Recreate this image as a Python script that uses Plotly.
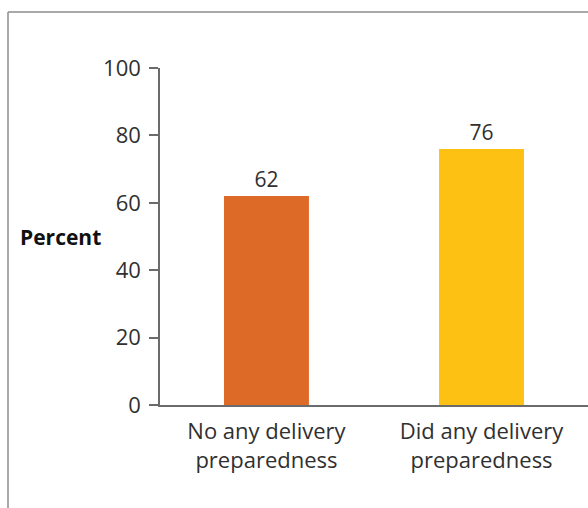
import plotly.graph_objects as go

categories = ["No any delivery<br>preparedness", "Did any delivery<br>preparedness"]
percent = [62, 76]
bar_colors = ["#DE6A27", "#FDC114"]
y_ticks = [0, 20, 40, 60, 80, 100]

text_color = "#303030"
axis_color = "#6b6b6b"
font_family = "Open Sans, Noto Sans, sans-serif"

W, H = 588, 508
L, R, T, B = 160, 0, 68, 103

fig = go.Figure(
    go.Bar(
        x=[0, 1],
        y=percent,
        width=0.395,
        marker=dict(color=bar_colors, line=dict(width=0)),
        text=[str(v) for v in percent],
        textposition="outside",
        textfont=dict(size=21, color=text_color, family=font_family),
        cliponaxis=False,
    )
)

fig.update_layout(
    width=W,
    height=H,
    margin=dict(l=L, r=R, t=T, b=B),
    paper_bgcolor="white",
    plot_bgcolor="white",
    showlegend=False,
    font=dict(family=font_family, color=text_color, size=22),
)

fig.update_xaxes(
    range=[-0.495, 1.495],
    tickmode="array",
    tickvals=[0, 1],
    ticktext=categories,
    showgrid=False,
    zeroline=False,
    showline=True,
    linecolor=axis_color,
    linewidth=1.5,
    ticks="",
    tickfont=dict(size=22, color=text_color),
    ticklabelstandoff=6,
)

fig.update_yaxes(
    range=[0, 100],
    tickmode="array",
    tickvals=y_ticks,
    showgrid=False,
    zeroline=False,
    showline=True,
    linecolor=axis_color,
    linewidth=1.5,
    ticks="outside",
    ticklen=9,
    tickwidth=1.5,
    tickcolor=axis_color,
    tickfont=dict(size=22, color=text_color),
    ticklabelstandoff=4,
)

# Axis title drawn horizontally beside the axis
fig.add_annotation(
    text="<b>Percent</b>",
    xref="paper", yref="paper",
    x=(18 - L) / (W - L - R), y=0.5,
    xanchor="left", yanchor="middle",
    showarrow=False,
    font=dict(size=21, color="#111111", family=font_family),
)

# Outer frame: top and left edges
plot_w = W - L - R
plot_h = H - T - B
fx = (8 - L) / plot_w
fy_top = (H - B - 12) / plot_h
fy_bot = (H - B - H) / plot_h
fx_right = (W - L) / plot_w
frame_line = dict(color="#8c8c8c", width=1.5)
fig.add_shape(type="line", xref="paper", yref="paper",
              x0=fx, x1=fx_right, y0=fy_top, y1=fy_top, line=frame_line)
fig.add_shape(type="line", xref="paper", yref="paper",
              x0=fx, x1=fx, y0=fy_top, y1=fy_bot, line=frame_line)

fig.write_html("out.html")
